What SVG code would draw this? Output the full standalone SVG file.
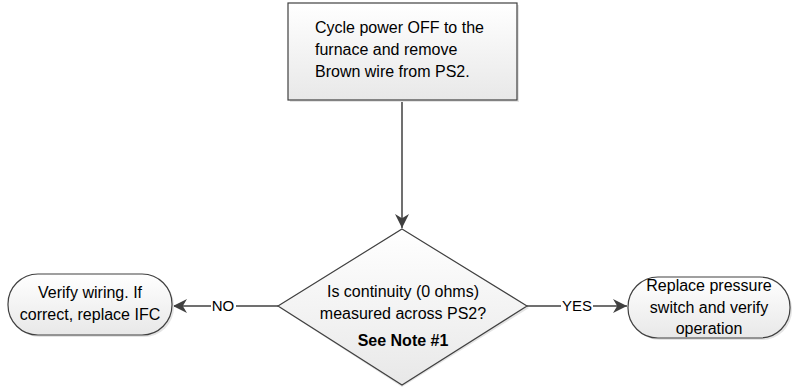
<svg xmlns="http://www.w3.org/2000/svg" width="795" height="389" viewBox="0 0 795 389">
<defs>
<linearGradient id="g" x1="0" y1="0" x2="0" y2="1">
<stop offset="0" stop-color="#ffffff"/>
<stop offset="1" stop-color="#e8e8e8"/>
</linearGradient>
<marker id="ahb" viewBox="0 0 10 10" refX="10" refY="5" markerWidth="14" markerHeight="14" markerUnits="userSpaceOnUse" orient="auto">
<path d="M0,0 L10,5 L0,10 L3,5 Z" fill="#404040"/>
</marker>
</defs>
<style>
.shape{fill:url(#g);stroke:#404040;stroke-width:1.2}
.shadow{fill:#e4e4e4;stroke:none}
.t{font-family:"Liberation Sans",Arial,sans-serif;font-size:16px;fill:#000}
.c{text-anchor:middle}
.b{font-weight:bold}
.line{stroke:#404040;stroke-width:1.5;fill:none}
.lbl{font-family:"Liberation Sans",Arial,sans-serif;font-size:15px;fill:#000;text-anchor:middle}
</style>
<rect width="795" height="389" fill="#ffffff"/>
<g id="connectors">
<line class="line" x1="402" y1="100" x2="402" y2="228" marker-end="url(#ahb)"/>
<line class="line" x1="278" y1="306" x2="236" y2="306"/>
<line class="line" x1="211" y1="306" x2="173" y2="306" marker-end="url(#ahb)"/>
<text class="lbl" x="223" y="311">NO</text>
<line class="line" x1="527" y1="306" x2="561" y2="306"/>
<line class="line" x1="593" y1="306" x2="627" y2="306" marker-end="url(#ahb)"/>
<text class="lbl" x="577" y="311">YES</text>
</g>
<g id="start">
<rect class="shadow" x="290" y="5" width="229" height="97"/>
<rect class="shape" x="288" y="3" width="229" height="97"/>
<text class="t" x="315" y="33">Cycle power OFF to the</text>
<text class="t" x="315" y="55">furnace and remove</text>
<text class="t" x="315" y="77">Brown wire from PS2.</text>
</g>
<g id="decision">
<polygon class="shadow" points="402,231 529,308 402,387 280,308"/>
<polygon class="shape" points="402,229 527,306 402,385 278,306"/>
<text class="t c" x="403" y="297">Is continuity (0 ohms)</text>
<text class="t c" x="403" y="319">measured across PS2?</text>
<text class="t c b" x="403" y="346">See Note #1</text>
</g>
<g id="no-end">
<rect class="shadow" x="10" y="276" width="164" height="61" rx="30" ry="30"/>
<rect class="shape" x="8" y="274" width="164" height="61" rx="30" ry="30"/>
<text class="t c" x="90" y="298">Verify wiring. If</text>
<text class="t c" x="90" y="320">correct, replace IFC</text>
</g>
<g id="yes-end">
<rect class="shadow" x="630" y="279" width="162" height="61" rx="30" ry="30"/>
<rect class="shape" x="628" y="277" width="162" height="61" rx="30" ry="30"/>
<text class="t c" x="709" y="291">Replace pressure</text>
<text class="t c" x="709" y="313">switch and verify</text>
<text class="t c" x="709" y="334">operation</text>
</g>
</svg>
